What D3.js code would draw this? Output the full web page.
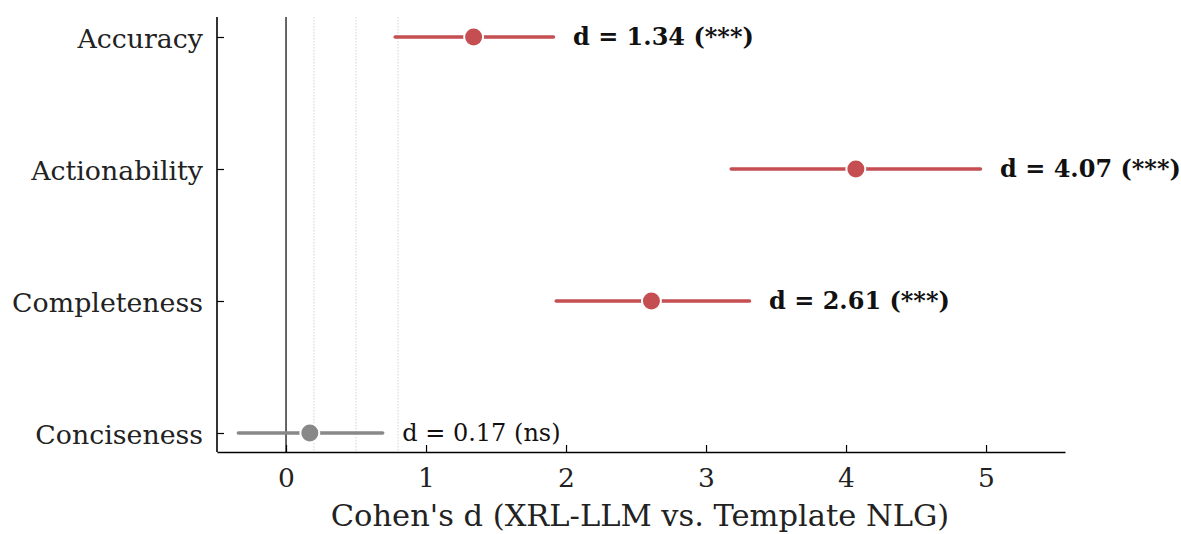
<!DOCTYPE html>
<html><head><meta charset="utf-8">
<script src="https://cdn.jsdelivr.net/npm/d3@7"></script>
<style>body{margin:0;background:#fff}</style>
</head><body>
<svg id="c" width="1181" height="534"></svg>
<script>
const categories = ["Accuracy", "Actionability", "Completeness", "Conciseness"];
const effect = [1.34, 4.07, 2.61, 0.17];
const ciLow = [0.78, 3.18, 1.93, -0.34];
const ciHigh = [1.91, 4.96, 3.31, 0.69];
const labels = ["d = 1.34 (***)", "d = 4.07 (***)", "d = 2.61 (***)", "d = 0.17 (ns)"];
const significant = [true, true, true, false];
const xTicks = [0, 1, 2, 3, 4, 5];
const refLines = [0.2, 0.5, 0.8];

const svg = d3.select("#c");
const L = 217, R = 1065, T = 17, B = 452;
const x = d3.scaleLinear().domain([-0.493, 5.564]).range([L, R]);
const y = d3.scaleLinear().domain([0, 3]).range([37, 433]);
const font = "'DejaVu Serif', serif";
const red = "#c44e52", gray = "#888888";

// reference lines
svg.selectAll(".ref").data(refLines).enter().append("line")
  .attr("x1", d => x(d)).attr("x2", d => x(d)).attr("y1", T).attr("y2", B)
  .attr("stroke", "#c8c8c8").attr("stroke-width", 0.8).attr("stroke-dasharray", "1.5,1.5");
svg.append("line").attr("x1", x(0)).attr("x2", x(0)).attr("y1", T).attr("y2", B)
  .attr("stroke", "#000").attr("stroke-width", 1.2);

// CIs
const idx = d3.range(categories.length);
svg.selectAll(".ci").data(idx).enter().append("line")
  .attr("x1", i => x(ciLow[i])).attr("x2", i => x(ciHigh[i]))
  .attr("y1", i => y(i)).attr("y2", i => y(i))
  .attr("stroke", i => significant[i] ? red : gray)
  .attr("stroke-width", 3.6).attr("stroke-linecap", "round");
svg.selectAll(".pt").data(idx).enter().append("circle")
  .attr("cx", i => x(effect[i])).attr("cy", i => y(i)).attr("r", 9.5)
  .attr("fill", i => significant[i] ? red : gray)
  .attr("stroke", "#fff").attr("stroke-width", 2);
svg.selectAll(".lab").data(idx).enter().append("text")
  .attr("x", i => x(ciHigh[i] + 0.14)).attr("y", i => y(i))
  .attr("dy", "0.35em")
  .attr("font-family", font).attr("font-size", 24)
  .attr("font-weight", i => significant[i] ? "bold" : "normal")
  .attr("fill", "#111")
  .text(i => labels[i]);

// axes
const xAxis = d3.axisBottom(x).tickValues(xTicks).tickFormat(d3.format("d")).tickSizeInner(-7).tickSizeOuter(0);
const gx = svg.append("g").attr("transform", `translate(0,${B})`).call(xAxis);
gx.select(".domain").attr("stroke-width", 1.6);
gx.selectAll(".tick line").attr("stroke-width", 1.2);
gx.selectAll("text").attr("y", 35).attr("dy", 0)
  .attr("font-family", font).attr("font-size", 26.5).attr("fill", "#222");

const yAxis = d3.axisLeft(y).tickValues(idx).tickFormat(i => categories[i]).tickSizeInner(-7).tickSizeOuter(0).tickPadding(14);
const gy = svg.append("g").attr("transform", `translate(${L},0)`).call(yAxis);
gy.select(".domain").attr("d", `M0,${T}V${B}`).attr("stroke-width", 1.6);
gy.selectAll(".tick line").attr("stroke-width", 1.2);
gy.selectAll("text").attr("dy", "0.4em").attr("font-family", font).attr("font-size", 26.8).attr("fill", "#222");

svg.append("text").attr("x", 640).attr("y", 526)
  .attr("text-anchor", "middle").attr("font-family", font).attr("font-size", 30.5).attr("fill", "#222")
  .text("Cohen's d (XRL-LLM vs. Template NLG)");
</script>
</body></html>
